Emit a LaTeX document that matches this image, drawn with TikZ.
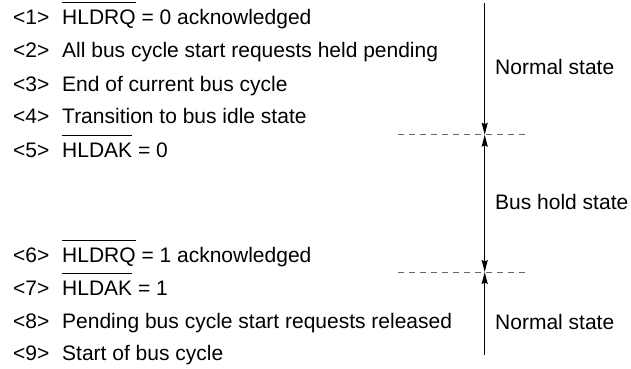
\documentclass[tikz,border=0pt]{standalone}
\usepackage{fontspec}
\setmainfont{Liberation Sans}
\usepackage{tikz}
\usetikzlibrary{arrows.meta, positioning}

% signal name with an active-low bar over it
\newcommand{\lowsig}[1]{\setbox0\hbox{#1}\rlap{\raisebox{21.5pt}{\rule{\wd0}{0.9pt}}}\box0\relax}

\begin{document}
\begin{tikzpicture}[
    x=1pt, y=-1pt,
    every node/.style={font=\fontsize{21}{24}\selectfont, inner sep=0pt},
    item/.style={anchor=base west},
    phase/.style={anchor=base west},
    flow/.style={line width=1pt},
    split/.style={gray!80!black, line width=1pt, dash pattern=on 6pt off 5pt},
  ]
  \useasboundingbox (0,0) rectangle (631,368);

  % Sequence of events
  \foreach \i/\y/\txt in {
      1/24/{\lowsig{HLDRQ} = 0 acknowledged},
      2/57.5/{All bus cycle start requests held pending},
      3/91/{End of current bus cycle},
      4/123.5/{Transition to bus idle state},
      5/157/{\lowsig{HLDAK} = 0},
      6/262/{\lowsig{HLDRQ} = 1 acknowledged},
      7/295/{\lowsig{HLDAK} = 1},
      8/328/{Pending bus cycle start requests released},
      9/360/{Start of bus cycle}} {
    \node[item] (n\i) at (13,\y) {<\i>};
    \node[item] (t\i) at (62,\y) {\txt};
  }

  % Time line
  \coordinate (top) at (484.7,3);
  \coordinate (hold) at (484.7,134.7);
  \coordinate (release) at (484.7,272);
  \coordinate (bot) at (484.7,355);

  % Phase borders
  \coordinate (holdw) at (398,134.7);
  \coordinate (holde) at (530,134.7);
  \coordinate (relw) at (398,272);
  \coordinate (rele) at (530,272);
  \draw[split] (holdw) -- (holde);
  \draw[split] (relw) -- (rele);

  \draw[flow, -{Stealth[length=12pt, width=6pt, inset=1.5pt]}] (top) -- (hold);
  \draw[flow, {Stealth[length=12pt, width=6pt, inset=1.5pt]}-{Stealth[length=12pt, width=6pt, inset=1.5pt]}] (hold) -- (release);
  \draw[flow, {Stealth[length=12pt, width=6pt, inset=1.5pt]}-] (release) -- (bot);

  % Phase names
  \node[phase] (normal1) at (495,74) {Normal state};
  \node[phase] (busheld) at (495,209) {Bus hold state};
  \node[phase] (normal2) at (495,329) {Normal state};
\end{tikzpicture}
\end{document}
